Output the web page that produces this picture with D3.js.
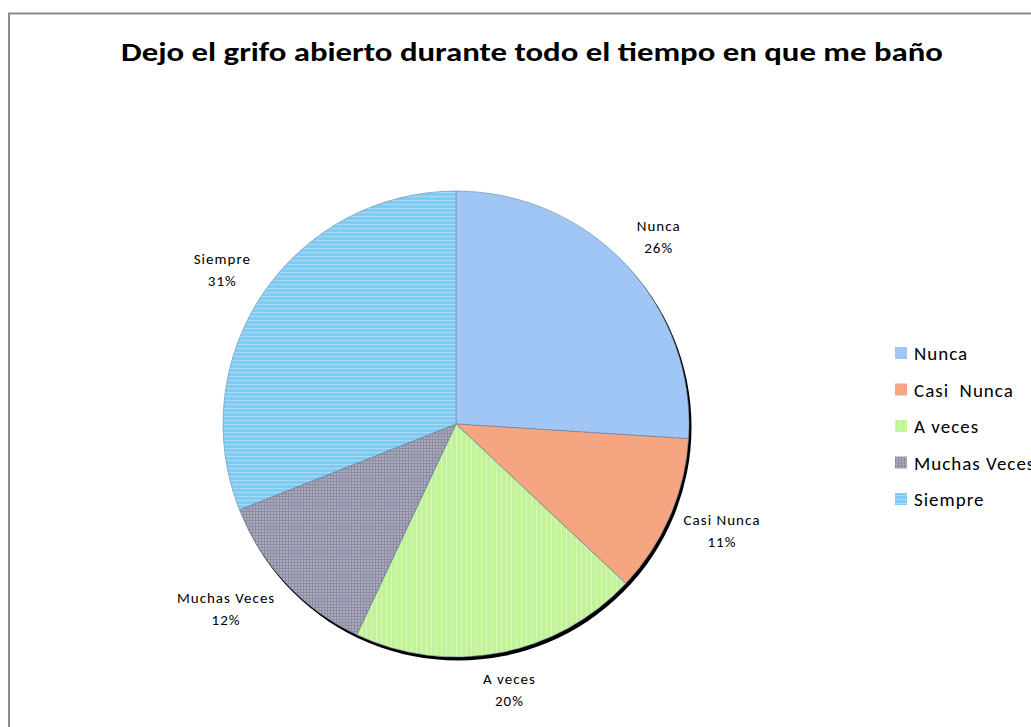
<!DOCTYPE html>
<html>
<head>
<meta charset="utf-8">
<script src="https://cdn.jsdelivr.net/npm/d3@7"></script>
<style>
  body { margin: 0; background: #fff; }
  svg { display: block; }
</style>
</head>
<body>
<div id="chart"></div>
<script>
// data
const categories = ["Nunca", "Casi  Nunca", "A veces", "Muchas Veces", "Siempre"];
const sliceLabels = ["Nunca", "Casi Nunca", "A veces", "Muchas Veces", "Siempre"];
const values = [26, 11, 20, 12, 31];
const colors = ["#9dc4f5", "#f6a782", "#c3f29b", "#aaaab8", "#80cbf2"];
const lineColors = ["#b3d2f8", "#f0a07c", "#d6f8b8", "#8c8ca6", "#a6dbf6"];

const width = 1031;
const height = 727;
const cx = 456, cy = 424, radius = 233;

const svg = d3.select("#chart")
  .append("svg")
  .attr("width", width)
  .attr("height", height)
  .style("font-family", "Carlito, Lato, 'Open Sans', sans-serif");

// frame
svg.append("rect")
  .attr("x", 9).attr("y", 13.5)
  .attr("width", width + 20).attr("height", height + 20)
  .attr("fill", "none")
  .attr("stroke", "#8c8c8c")
  .attr("stroke-width", 2);

// title
svg.append("text")
  .attr("x", 532)
  .attr("y", 61)
  .attr("text-anchor", "middle")
  .attr("font-weight", "bold")
  .attr("font-size", 26)
  .attr("fill", "#000")
  .attr("textLength", 822)
  .attr("lengthAdjust", "spacingAndGlyphs")
  .text("Dejo el grifo abierto durante todo el tiempo en que me baño");

// patterns
const defs = svg.append("defs");
const pat = (i, size, build) => {
  const p = defs.append("pattern")
    .attr("id", "p" + i)
    .attr("patternUnits", "userSpaceOnUse")
    .attr("width", size[0]).attr("height", size[1]);
  p.append("rect").attr("width", size[0]).attr("height", size[1]).attr("fill", colors[i]);
  build(p);
};
// Nunca: fine dots
pat(0, [4, 4], p => {
  p.append("rect").attr("x", 0).attr("y", 0).attr("width", 1).attr("height", 1).attr("fill", lineColors[0]);
  p.append("rect").attr("x", 2).attr("y", 2).attr("width", 1).attr("height", 1).attr("fill", lineColors[0]);
});
// Casi Nunca: faint diagonal
pat(1, [4, 4], p => {
  p.append("path").attr("d", "M0,4 L4,0").attr("stroke", lineColors[1]).attr("stroke-width", 0.6);
});
// A veces: vertical stripes
pat(2, [5, 4], p => {
  p.append("rect").attr("x", 0).attr("y", 0).attr("width", 1).attr("height", 4).attr("fill", lineColors[2]);
});
// Muchas Veces: grid
pat(3, [3, 3], p => {
  p.append("rect").attr("x", 0).attr("y", 0).attr("width", 3).attr("height", 1).attr("fill", lineColors[3]);
  p.append("rect").attr("x", 0).attr("y", 0).attr("width", 1).attr("height", 3).attr("fill", lineColors[3]);
});
// Siempre: horizontal lines
pat(4, [4, 4], p => {
  p.append("rect").attr("x", 0).attr("y", 0).attr("width", 4).attr("height", 1).attr("fill", lineColors[4]);
});

const pie = d3.pie().sort(null).value(d => d)(values);
const arc = d3.arc().innerRadius(0).outerRadius(radius);

const g = svg.append("g").attr("transform", `translate(${cx},${cy})`);

// shadow
g.append("circle")
  .attr("cx", 2).attr("cy", 3)
  .attr("r", radius + 0.5)
  .attr("fill", "#000");

g.selectAll("path.slice")
  .data(pie)
  .join("path")
  .attr("class", "slice")
  .attr("d", arc)
  .attr("fill", (d, i) => `url(#p${i})`)
  .attr("stroke", "#6f8aa8")
  .attr("stroke-width", 0.6);

// data labels
const labelR = radius + 15;
const lab = g.selectAll("g.lab")
  .data(pie)
  .join("g")
  .attr("class", "lab");

lab.each(function(d, i) {
  const el = d3.select(this);
  const t = el.append("text")
    .attr("text-anchor", "middle")
    .attr("font-size", 15)
    .attr("letter-spacing", 1)
    .attr("fill", "#000");
  t.append("tspan").attr("x", 0).attr("dy", "-0.15em").text(sliceLabels[i]);
  t.append("tspan").attr("x", 0).attr("dy", "1.45em").text(values[i] + "%");
  const bb = t.node().getBBox();
  const a = (d.startAngle + d.endAngle) / 2;
  const s = Math.sin(a), c = Math.cos(a);
  const px = labelR * s, py = -labelR * c;
  const sx = Math.sign(s) * Math.min(1, Math.abs(s) * 1.4) * bb.width / 2;
  const sy = -c * bb.height * 0.6;
  const ox = px + sx - (bb.x + bb.width / 2);
  const oy = py + sy - (bb.y + bb.height / 2) - 1;
  el.attr("transform", `translate(${ox},${oy})`);
});

// legend
const legend = svg.append("g").attr("transform", "translate(895,353)");
const row = legend.selectAll("g")
  .data(categories)
  .join("g")
  .attr("transform", (d, i) => `translate(0,${i * 36.5})`);
row.append("rect")
  .attr("x", 0).attr("y", -6)
  .attr("width", 12).attr("height", 12)
  .attr("fill", (d, i) => `url(#p${i})`);
row.append("text")
  .attr("x", 19)
  .attr("y", 7)
  .attr("font-size", 19)
  .attr("letter-spacing", 1)
  .attr("fill", "#000")
  .attr("xml:space", "preserve")
  .text(d => d);
</script>
</body>
</html>
